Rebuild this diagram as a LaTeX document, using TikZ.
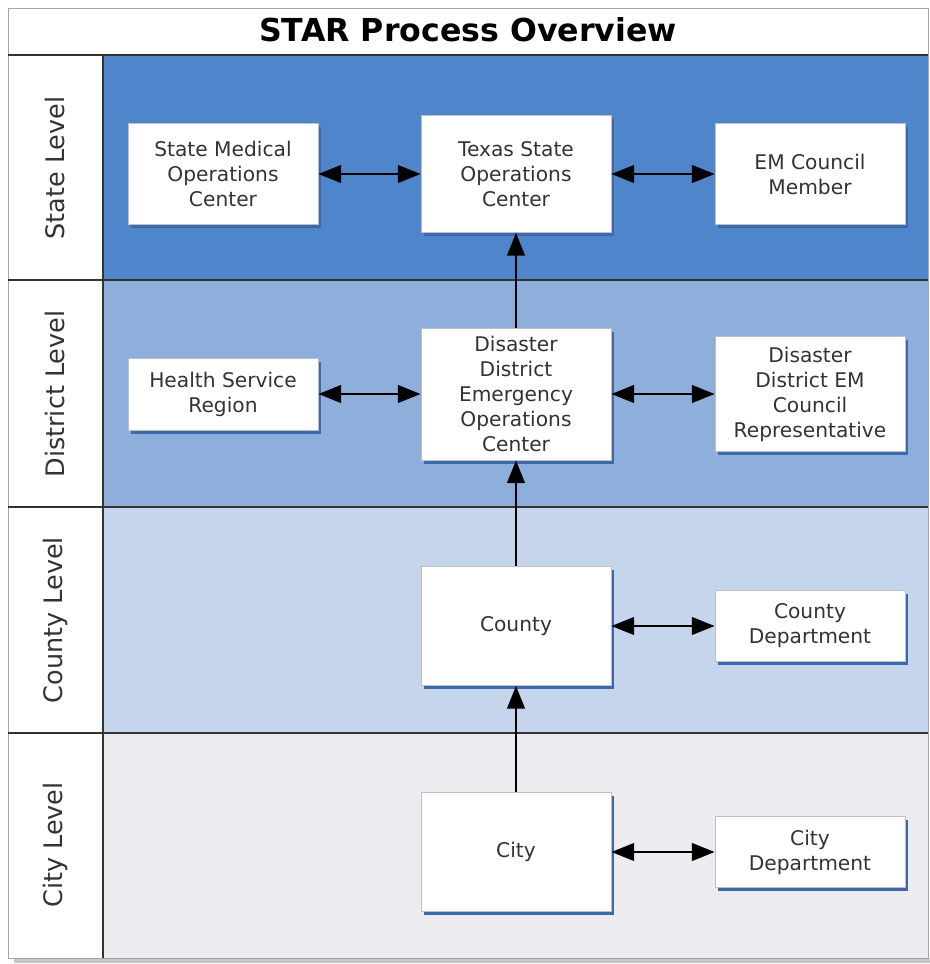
\documentclass[tikz,border=0pt]{standalone}
\usepackage{fontspec}
\setmainfont{DejaVu Sans}
\usepackage{xcolor}
\usetikzlibrary{positioning,arrows.meta,shadows}
\definecolor{statefill}{HTML}{4F86CB}
\definecolor{districtfill}{HTML}{8EAEDB}
\definecolor{countyfill}{HTML}{C5D6EC}
\definecolor{cityfill}{HTML}{EBEBF0}
\definecolor{shadowblue}{HTML}{3D68AE}
\definecolor{boxtext}{HTML}{333333}

\begin{document}
\begin{tikzpicture}[x=0.02cm, y=-0.02cm,
    box/.style={draw=gray!50, fill=white, text=boxtext, align=center,
        minimum width=3.8cm, inner sep=2pt, font=\fontsize{11.5}{14.2}\selectfont,
        drop shadow={shadow xshift=1.5pt, shadow yshift=-2pt, fill=shadowblue, opacity=1}},
    lanelabel/.style={rotate=90, text=boxtext, font=\fontsize{14.5}{17}\selectfont},
    link/.style={line width=1.5pt, {Triangle[length=13pt,width=10pt]}-{Triangle[length=13pt,width=10pt]}},
    up/.style={line width=1.5pt, -{Triangle[length=13pt,width=10pt]}},
    sep/.style={draw=black!80, line width=1pt}]

    \useasboundingbox (0,0) rectangle (930,964);

    % Lanes
    \begin{scope}
        \fill[gray!45] (14,958) rectangle (930,963);
        \fill[white] (8,8) rectangle (928,958);
        \fill[statefill] (103,55) rectangle (928,280);
        \fill[districtfill] (103,280) rectangle (928,507);
        \fill[countyfill] (103,507) rectangle (928,733);
        \fill[cityfill] (103,733) rectangle (928,958);
        \draw[gray!70] (8,8) rectangle (928,958);
        \draw[sep] (8,55) -- (928,55);
        \draw[sep] (8,280) -- (928,280);
        \draw[sep] (8,507) -- (928,507);
        \draw[sep] (8,733) -- (928,733);
        \draw[sep] (103,55) -- (103,958);

        \node[font=\fontsize{18}{21}\bfseries\selectfont] (title) at (468,30) {STAR Process Overview};
        \node[lanelabel] (state) at (55,168) {State Level};
        \node[lanelabel] (district) at (55,394) {District Level};
        \node[lanelabel] (county) at (55,620) {County Level};
        \node[lanelabel] (city) at (55,845) {City Level};
    \end{scope}

    % Boxes
    \node[box, minimum height=2.02cm] (smoc) at (223,174) {State Medical\\Operations\\Center};
    \node[box, minimum height=2.34cm] (tsoc) at (516,174) {Texas State\\Operations\\Center};
    \node[box, minimum height=2.02cm] (emcm) at (810,174) {EM Council\\Member};
    \node[box, minimum height=1.44cm] (hsr) at (223,394) {Health Service\\Region};
    \node[box, minimum height=2.64cm] (ddeoc) at (516,394) {Disaster\\District\\Emergency\\Operations\\Center};
    \node[box, minimum height=2.30cm] (ddemcr) at (810,394) {Disaster\\District EM\\Council\\Representative};
    \node[box, minimum height=2.38cm] (cnty) at (516,626) {County};
    \node[box, minimum height=1.42cm] (cntydept) at (810,626) {County\\Department};
    \node[box, minimum height=2.38cm] (cty) at (516,852) {City};
    \node[box, minimum height=1.42cm] (ctydept) at (810,852) {City\\Department};

    % Connectors
    \draw[link] (smoc) -- (tsoc);
    \draw[link] (tsoc) -- (emcm);
    \draw[link] (hsr) -- (ddeoc);
    \draw[link] (ddeoc) -- (ddemcr);
    \draw[link] (cnty) -- (cntydept);
    \draw[link] (cty) -- (ctydept);
    \draw[up] (ddeoc) -- (tsoc);
    \draw[up] (cnty) -- (ddeoc);
    \draw[up] (cty) -- (cnty);
\end{tikzpicture}
\end{document}
